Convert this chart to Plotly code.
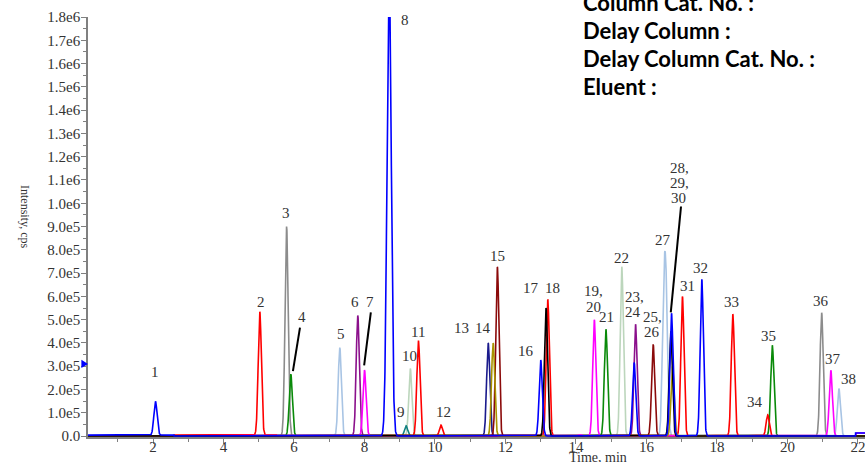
import numpy as np
import plotly.graph_objects as go

# ---------------- data ----------------
SERIES_NAMES = ["lightblue", "palegreen", "gray", "teal", "navy", "purple", "maroon",
                "green", "red", "magenta", "olive", "black", "blue"]
SERIES_COLORS = {
    "blue": "#0000FF", "red": "#FF0000", "gray": "#8C8C8C", "green": "#0A8A0A",
    "lightblue": "#A8C4E4", "purple": "#8B108B", "magenta": "#FF00FF", "teal": "#118080",
    "palegreen": "#BCD6BC", "maroon": "#8B0A0A", "navy": "#1A1A8C", "olive": "#A89400",
    "black": "#000000",
}
# peak apex times (min) and heights (cps) per trace
PEAK_TIMES = {
    "blue": [2.07, 8.70, 13.00, 15.65, 16.71, 17.57],
    "red": [5.03, 9.53, 10.17, 13.20, 17.02, 18.45, 19.44],
    "gray": [5.79, 20.97],
    "green": [5.91, 14.85, 19.57],
    "lightblue": [7.30, 16.49, 16.56, 21.46],
    "purple": [7.81, 15.69],
    "magenta": [8.00, 14.10, 14.52, 21.23],
    "teal": [9.18],
    "palegreen": [9.30, 15.30],
    "maroon": [11.77, 16.19],
    "navy": [11.51],
    "olive": [11.65, 16.74],
    "black": [13.15, 16.69],
}
PEAK_HEIGHTS = {
    "blue": [1.45e5, 2.0e6, 3.27e5, 3.16e5, 5.27e5, 6.73e5],
    "red": [5.30e5, 4.10e5, 4.7e4, 5.87e5, 6.00e5, 5.23e5, 9.1e4],
    "gray": [9.00e5, 5.30e5],
    "green": [2.66e5, 4.59e5, 3.90e5],
    "lightblue": [3.80e5, 5.4e5, 5.35e5, 2.04e5],
    "purple": [5.18e5, 4.80e5],
    "magenta": [2.84e5, 6.0e3, 5.00e5, 2.83e5],
    "teal": [4.4e4],
    "palegreen": [2.90e5, 7.27e5],
    "maroon": [7.26e5, 3.94e5],
    "navy": [4.00e5],
    "olive": [4.00e5, 3.00e5],
    "black": [5.50e5, 4.50e5],
}
PEAK_WIDTH = 0.045          # gaussian sigma, min
WIDE_PEAK_WIDTH = 0.06      # for the big peak 8

X_TICKS = [2, 4, 6, 8, 10, 12, 14, 16, 18, 20, 22]
Y_TICKS = [i * 1e5 for i in range(19)]
Y_TICK_TEXT = ["0.0", "1.0e5", "2.0e5", "3.0e5", "4.0e5", "5.0e5", "6.0e5", "7.0e5",
               "8.0e5", "9.0e5", "1.0e6", "1.1e6", "1.2e6", "1.3e6", "1.4e6", "1.5e6",
               "1.6e6", "1.7e6", "1.8e6"]

# peak labels: text, time, intensity
LABELS = [
    ("1", 2.06, 2.74e5), ("2", 5.06, 5.74e5), ("3", 5.77, 9.6e5), ("4", 6.23, 5.1e5),
    ("5", 7.33, 4.37e5), ("6", 7.73, 5.74e5), ("7", 8.16, 5.74e5), ("8", 9.15, 1.787e6),
    ("9", 9.04, 1.03e5), ("10", 9.29, 3.43e5), ("11", 9.52, 4.46e5), ("12", 10.23, 1.03e5),
    ("13", 10.74, 4.63e5), ("14", 11.36, 4.63e5), ("15", 11.76, 7.72e5), ("16", 12.58, 3.64e5),
    ("17", 12.72, 6.34e5), ("18", 13.32, 6.34e5), ("19,", 14.51, 6.21e5), ("20", 14.51, 5.53e5),
    ("21", 14.88, 5.10e5), ("22", 15.28, 7.67e5), ("23,", 15.67, 5.96e5), ("24", 15.62, 5.31e5),
    ("25,", 16.16, 5.10e5), ("26", 16.16, 4.46e5), ("27", 16.47, 8.44e5), ("28,", 16.95, 1.152e6),
    ("29,", 16.95, 1.089e6), ("30", 16.92, 1.024e6), ("31", 17.15, 6.43e5), ("32", 17.52, 7.2e5),
    ("33", 18.42, 5.74e5), ("34", 19.08, 1.46e5), ("35", 19.45, 4.29e5), ("36", 20.95, 5.79e5),
    ("37", 21.29, 3.3e5), ("38", 21.74, 2.44e5),
]
# leader lines: (t0, y0, t1, y1)
LEADERS = [
    (6.17, 4.66e5, 5.97, 2.79e5),
    (8.18, 5.31e5, 7.99, 3.04e5),
    (16.98, 9.86e5, 16.69, 5.31e5),
]
INFO_LINES = ["Column Cat. No. :", "Delay Column :", "Delay Column Cat. No. :", "Eluent :"]

X_MIN, X_MAX = 0.156, 22.2

# ---------------- build traces ----------------
t = np.linspace(X_MIN, X_MAX, 8000)
fig = go.Figure()
for name in SERIES_NAMES:
    y = np.zeros_like(t)
    for tc, h in zip(PEAK_TIMES[name], PEAK_HEIGHTS[name]):
        s = WIDE_PEAK_WIDTH if h > 1.5e6 else PEAK_WIDTH
        y += h * np.exp(-0.5 * ((t - tc) / s) ** 2)
    if name == "red":
        y += np.where((t > 2.6) & (t < 5.5), 4000, 0)
    if name == "blue":
        y += np.where(t < 2.6, 4000, 0)
        y += np.where(t > 21.93, 1.3e4, 0)
    if name == "magenta":
        y += np.where(t > 21.95, 1.3e4, 0)
    fig.add_trace(go.Scatter(x=t, y=y, mode="lines",
                             line=dict(color=SERIES_COLORS[name], width=1.6),
                             hoverinfo="skip", showlegend=False))

serif = "Liberation Serif"
for text, tx, ty in LABELS:
    fig.add_annotation(x=tx, y=ty, text=text, showarrow=False,
                       font=dict(family=serif, size=15, color="#333333"))
for t0, y0, t1, y1 in LEADERS:
    fig.add_shape(type="line", x0=t0, y0=y0, x1=t1, y1=y1,
                  line=dict(color="black", width=2))

# axis marker triangle
fig.add_shape(type="path", xref="paper", yref="y",
              path="M -0.0085,3.28e5 L 0.0,3.10e5 L -0.0085,2.92e5 Z",
              fillcolor="#0000FF", line=dict(color="#0000FF", width=0))

for i, line in enumerate(INFO_LINES):
    fig.add_annotation(xref="paper", yref="paper", x=(581 - 88) / 777, y=1 + (17 - (3 + 28 * i)) / 420,
                       text="<b>" + line + "</b>", showarrow=False, xanchor="left", yanchor="middle",
                       font=dict(family="Lato", size=22, color="black"))

fig.add_annotation(xref="paper", yref="paper", x=(598 - 88) / 777, y=-(457 - 437) / 420,
                   text="Time, min", showarrow=False, yanchor="middle",
                   font=dict(family=serif, size=14, color="#333333"))
fig.add_annotation(xref="paper", yref="paper", x=-(88 - 16) / 777, y=0.5 + 10 / 420,
                   text="Intensity, cps", showarrow=False, textangle=90,
                   font=dict(family=serif, size=12, color="#333333"))

fig.update_layout(
    width=865, height=462,
    margin=dict(l=88, r=0, t=17, b=25),
    plot_bgcolor="white", paper_bgcolor="white",
    xaxis=dict(range=[X_MIN, X_MAX], tickvals=X_TICKS, ticks="outside", ticklen=5,
               tickcolor="#808080", showline=True, linecolor="#808080", linewidth=1.5,
               showgrid=False, zeroline=False, ticklabelstandoff=-10,
               ticklabeloverflow="allow",
               tickfont=dict(family=serif, size=15, color="#333333"),
               minor=dict(dtick=1, ticks="outside", ticklen=3, tickcolor="#808080")),
    yaxis=dict(range=[-4000, 1.8e6], tickvals=Y_TICKS, ticktext=Y_TICK_TEXT, ticks="outside",
               ticklen=5, tickcolor="#808080", showline=True, linecolor="#808080", linewidth=1.5,
               showgrid=False, zeroline=False, ticklabelstandoff=-2,
               tickfont=dict(family=serif, size=15, color="#333333"),
               minor=dict(dtick=5e4, ticks="outside", ticklen=3, tickcolor="#808080")),
)

fig.write_html("out.html", config={"displayModeBar": False},
               post_script="document.body.style.margin='0px';document.body.style.overflow='hidden';")
